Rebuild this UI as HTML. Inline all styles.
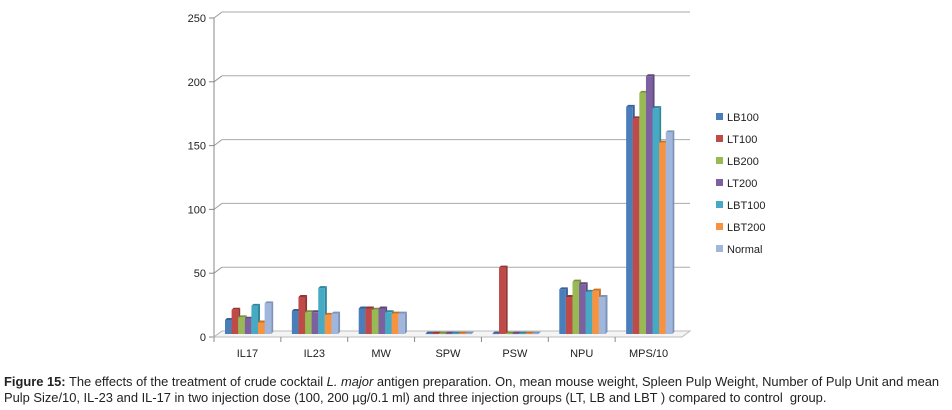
<!DOCTYPE html>
<html><head><meta charset="utf-8"><style>
body{margin:0;width:952px;height:410px;background:#fff;font-family:"Liberation Sans",sans-serif;overflow:hidden}
#cap{position:absolute;left:4px;top:374px;width:948px;font-size:12.9px;line-height:16px;color:#222;white-space:nowrap}
</style></head><body>
<svg id="chart" width="952" height="370" style="position:absolute;left:0;top:0" font-family="Liberation Sans, sans-serif"></svg>
<div id="cap"><b>Figure 15:</b> The effects of the treatment of crude cocktail <i>L. major</i> antigen preparation. On, mean mouse weight, Spleen Pulp Weight, Number of Pulp Unit and mean<br>Pulp Size/10, IL-23 and IL-17 in two injection dose (100, 200 µg/0.1 ml) and three injection groups (LT, LB and LBT ) compared to control&nbsp; group.</div>
<script>
const categories=["IL17","IL23","MW","SPW","PSW","NPU","MPS/10"];
const seriesNames=["LB100","LT100","LB200","LT200","LBT100","LBT200","Normal"];
const LB100=[11,18,20,0.3,0.3,35,178];
const LT100=[19,29,20,0.3,52,29,169];
const LB200=[13,17,19,0.3,0.3,41,189];
const LT200=[12,17,20,0.3,0.3,39,202];
const LBT100=[22,36,17,0.3,0.3,33,177];
const LBT200=[9,15,16,0.3,0.3,34,150];
const Normal=[24,16,16,0.3,0.3,29,158];
const yTicks=[0,50,100,150,200,250];
const series=[LB100,LT100,LB200,LT200,LBT100,LBT200,Normal];
const colors=["#4a7ebb","#be4b48","#98b954","#7d60a0","#46aac5","#f69240","#a0b6dc"];
const dark=["#36609a","#933633","#76923c","#5f4880","#31869b","#c57126","#7f93b8"];
const svg=document.getElementById('chart');const NS="http://www.w3.org/2000/svg";
function mk(t,a,p){const e=document.createElementNS(NS,t);for(const k in a)e.setAttribute(k,a[k]);(p||svg).appendChild(e);return e;}
const x0=214,x1=682,y0=337,yTop=18,dx=8,dy=6;
function y(v){return y0-(v/250)*(y0-yTop);}
const cw=(x1-x0)/categories.length;
function cx(i){return x0+cw*i;}
yTicks.forEach(t=>{
 const g=mk('line',{x1:x0,y1:y(t),x2:x0+dx,y2:y(t)-dy,stroke:'#999'});
 
 const l=mk('line',{x1:x0+dx,y1:y(t)-dy,x2:x1+dx,y2:y(t)-dy,stroke:'#aaa'});
 
 const tk=mk('line',{x1:x0-5,y1:y(t),x2:x0,y2:y(t),stroke:'#888'});
 
 const tx=mk('text',{x:x0-8,y:y(t)+4,'text-anchor':'end','font-size':11,fill:'#222'});tx.textContent=t;
 
});
const ax=mk('line',{x1:x0,y1:y0,x2:x0,y2:yTop,stroke:'#888'});

const bx=mk('line',{x1:x0,y1:y0,x2:x1,y2:y0,stroke:'#888'});

const fl=mk('polygon',{points:`${x0},${y0} ${x1},${y0} ${x1+dx},${y0-dy} ${x0+dx},${y0-dy}`,fill:'#f4f4f4',stroke:'#bbb'});

const bw=6.6;
categories.forEach((c,i)=>{
 const tk=mk('line',{x1:cx(i),y1:y0,x2:cx(i),y2:y0+5,stroke:'#888'});
 
 const t=mk('text',{x:cx(i)+cw/2,y:y0+20,'text-anchor':'middle','font-size':11,fill:'#222'});t.textContent=c;
 
 series.forEach((s,j)=>{
  const bxl=cx(i)+10+j*bw+1,top=y(s[i])-3,bot=y0-3;
  const g=mk('g',{});
  
  
  mk('polygon',{points:`${bxl+bw},${top} ${bxl+bw+2},${top-2} ${bxl+bw+2},${bot-2} ${bxl+bw},${bot}`,fill:dark[j]},g);
  mk('polygon',{points:`${bxl},${top} ${bxl+2},${top-2} ${bxl+bw+2},${top-2} ${bxl+bw},${top}`,fill:dark[j]},g);
  mk('rect',{x:bxl,y:top,width:bw,height:Math.max(0.5,bot-top),fill:colors[j]},g);
 });
});
seriesNames.forEach((n,j)=>{
 const g=mk('g',{});
 
 mk('rect',{x:716,y:113+j*22,width:7,height:7,fill:colors[j]},g);
 const t=mk('text',{x:727,y:121+j*22,'font-size':11,fill:'#222'},g);t.textContent=n;
});
</script>
</body></html>
